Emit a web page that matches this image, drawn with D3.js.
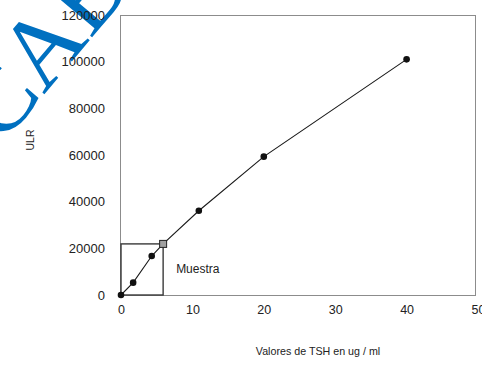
<!DOCTYPE html>
<html>
<head>
<meta charset="utf-8">
<script src="https://cdnjs.cloudflare.com/ajax/libs/d3/7.8.5/d3.min.js"></script>
<style>
  body { margin: 0; background: #fff; }
  svg text { font-family: "Liberation Sans", Arial, sans-serif; fill: #222; }
</style>
</head>
<body>
<div class="chart-container"></div>
<script>
// calibration curve: concentration (x) vs ULR (y)
var conc = [0, 1.7, 4.3, 5.9, 10.9, 20, 40];
var ulr = [0, 5300, 16700, 21900, 36100, 59300, 101000];
var sampleIndex = 3; // "Muestra" point
var xTicks = [0, 10, 20, 30, 40, 50];
var yTicks = [0, 20000, 40000, 60000, 80000, 100000, 120000];

var W = 482, H = 369;
var margin = {top: 15, right: 6, bottom: 74, left: 121};

var x = d3.scaleLinear().domain([0, 50]).range([margin.left, 478]);
var y = d3.scaleLinear().domain([0, 120000]).range([H - margin.bottom, margin.top]);

var svg = d3.select(".chart-container").append("svg")
    .attr("width", W)
    .attr("height", H);

// blue watermark letters behind the chart
svg.append("text")
    .attr("transform", "translate(1,146) rotate(-50)")
    .style("font-family", "'Liberation Serif', 'Times New Roman', serif")
    .style("font-size", "100px")
    .style("fill", "#0070c0")
    .text("CAB");

// plot frame
svg.append("rect")
    .attr("x", margin.left - 0.5)
    .attr("y", margin.top + 0.5)
    .attr("width", 476 - margin.left)
    .attr("height", y(0) - margin.top)
    .attr("fill", "none")
    .attr("stroke", "#8c8c8c")
    .attr("stroke-width", 1);

// y axis labels
var yAxis = d3.axisLeft(y).tickValues(yTicks).tickSize(0).tickPadding(16).tickFormat(d3.format("d"));
svg.append("g")
    .attr("transform", "translate(" + margin.left + ",0)")
    .call(yAxis)
    .call(function(g) { g.select(".domain").remove(); })
    .selectAll("text")
      .style("font-size", "13px")
      .attr("fill", "#222");

// x axis labels
var xAxis = d3.axisBottom(x).tickValues(xTicks).tickSize(0).tickPadding(10);
svg.append("g")
    .attr("transform", "translate(0," + y(0) + ")")
    .call(xAxis)
    .call(function(g) { g.select(".domain").remove(); })
    .selectAll("text")
      .style("font-size", "12.5px")
      .attr("fill", "#222");

// sample box from origin to the sample point
svg.append("rect")
    .attr("x", x(0))
    .attr("y", y(ulr[sampleIndex]))
    .attr("width", x(conc[sampleIndex]) - x(0))
    .attr("height", y(0) - y(ulr[sampleIndex]))
    .attr("fill", "none")
    .attr("stroke", "#3a3a3a")
    .attr("stroke-width", 1.4);

svg.append("text")
    .attr("x", x(conc[sampleIndex]) + 13)
    .attr("y", (y(0) + y(ulr[sampleIndex])) / 2 + 4)
    .style("font-size", "12px")
    .text("Muestra");

// curve
var pts = conc.map(function(c, i) { return {x: c, y: ulr[i]}; });
var line = d3.line()
    .x(function(d) { return x(d.x); })
    .y(function(d) { return y(d.y); });

svg.append("path")
    .datum(pts)
    .attr("d", line)
    .attr("fill", "none")
    .attr("stroke", "#1a1a1a")
    .attr("stroke-width", 1.1);

svg.selectAll("circle.pt")
    .data(pts.filter(function(d, i) { return i !== sampleIndex; }))
  .enter().append("circle")
    .attr("class", "pt")
    .attr("cx", function(d) { return x(d.x); })
    .attr("cy", function(d) { return y(d.y); })
    .attr("r", 3.3)
    .attr("fill", "#111");

var sp = pts[sampleIndex];
svg.append("rect")
    .attr("x", x(sp.x) - 3.5)
    .attr("y", y(sp.y) - 3.5)
    .attr("width", 7)
    .attr("height", 7)
    .attr("fill", "#a0a0a0")
    .attr("stroke", "#222")
    .attr("stroke-width", 1);

// axis titles
svg.append("text")
    .attr("transform", "translate(34,140) rotate(-90)")
    .attr("text-anchor", "middle")
    .style("font-size", "10.5px")
    .text("ULR");

svg.append("text")
    .attr("x", 318)
    .attr("y", 355)
    .attr("text-anchor", "middle")
    .style("font-size", "10.7px")
    .text("Valores de TSH en ug / ml");
</script>
</body>
</html>
